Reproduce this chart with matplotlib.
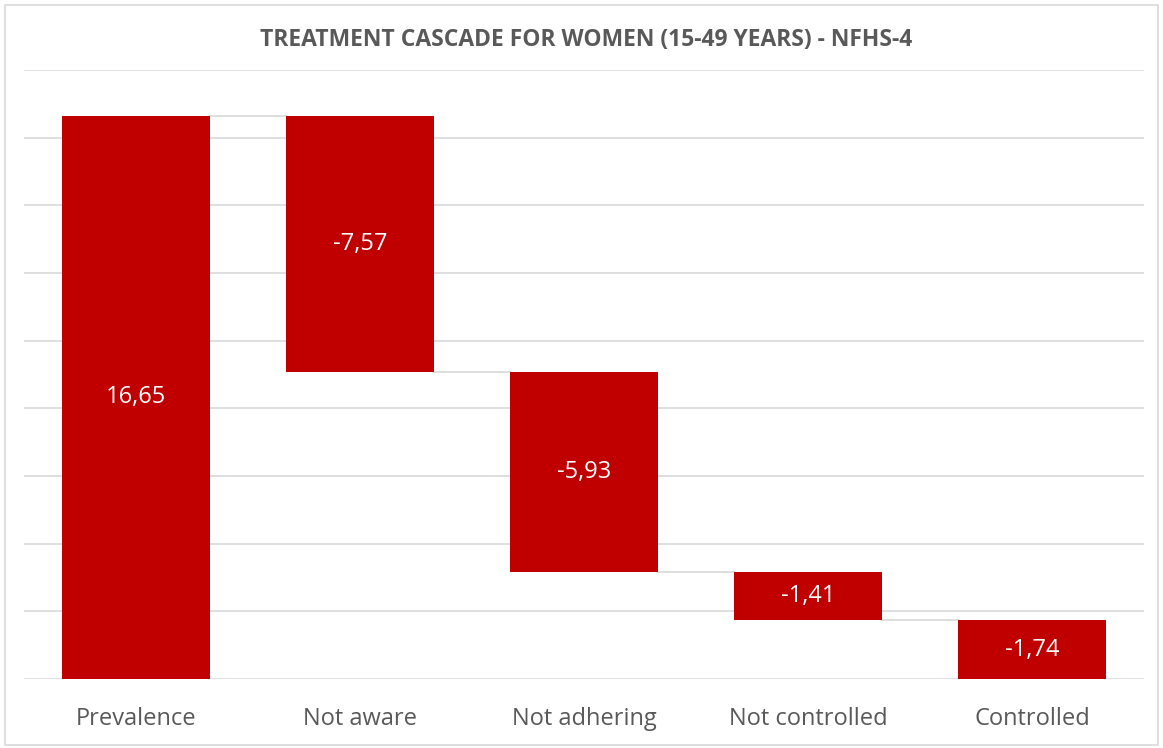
"""
waterfall chart: treatment cascade for women (15-49 years), NFHS-4
"""
import matplotlib.pyplot as plt
from matplotlib.patches import Rectangle
import numpy as np

categories = ["Prevalence", "Not aware", "Not adhering", "Not controlled", "Controlled"]
changes = [16.65, -7.57, -5.93, -1.41, -1.74]
labels = ["16,65", "-7,57", "-5,93", "-1,41", "-1,74"]

bar_color = "#C00000"
text_gray = "#595959"
grid_gray = "#D9D9D9"

plt.rcParams['font.family'] = ['Open Sans', 'DejaVu Sans']

# running totals: each bar hangs from the previous total
tops = []
bottoms = []
total = 0
for i, c in enumerate(changes):
    if i == 0:
        bottoms.append(0)
        tops.append(c)
        total = c
    else:
        new_total = total + c
        bottoms.append(new_total)
        tops.append(total)
        total = new_total

fig = plt.figure(figsize=(11.63, 7.48), dpi=100)
ax = fig.add_axes([24 / 1163, 69 / 748, 1120 / 1163, 609 / 748])

x = np.arange(len(categories))
width = 0.66
heights = [t - b for t, b in zip(tops, bottoms)]
ax.bar(x, heights, bottom=bottoms, width=width, color=bar_color, zorder=3)

# connector lines between bars
for i in range(len(categories) - 1):
    level = tops[i + 1]
    ax.plot([x[i] + width / 2, x[i + 1] - width / 2], [level, level],
            color=grid_gray, lw=1.2, zorder=2)

# value labels
for xi, b, t, lab in zip(x, bottoms, tops, labels):
    ax.text(xi, (b + t) / 2, lab, ha='center', va='center',
            color='white', fontsize=17, zorder=4)

ax.set_xlim(-0.5, len(categories) - 0.5)
ax.set_ylim(0, 18)
ax.set_yticks(np.arange(0, 19, 2))
ax.yaxis.grid(True, color=grid_gray, lw=1.2, zorder=0)
ax.set_yticklabels([])
ax.tick_params(axis='y', length=0)
ax.tick_params(axis='x', length=0, pad=20, labelsize=17, labelcolor=text_gray)
ax.set_xticks(x)
ax.set_xticklabels(categories)
for s in ax.spines.values():
    s.set_visible(False)

fig.text(0.504, 0.946, "TREATMENT CASCADE FOR WOMEN (15-49 YEARS) - NFHS-4",
         ha='center', va='center', fontsize=16.5, fontweight='bold', color=text_gray)

# outer chart border
fig.patches.append(Rectangle((5 / 1163, 3 / 748), 1153 / 1163, 740 / 748,
                             transform=fig.transFigure, fill=False,
                             edgecolor=grid_gray, lw=1.2))

plt.savefig("out.png", dpi=100)
